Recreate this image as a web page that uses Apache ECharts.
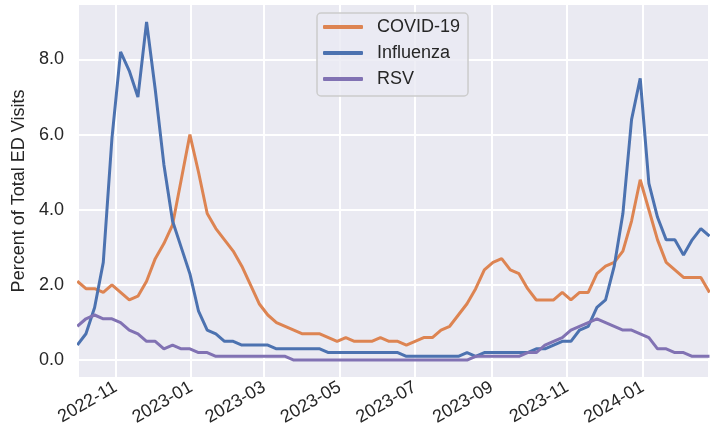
<!DOCTYPE html>
<html>
<head>
<meta charset="utf-8">
<script src="https://cdn.jsdelivr.net/npm/echarts@6/dist/echarts.min.js"></script>
<style>
  html, body { margin: 0; padding: 0; background: #ffffff; }
  #chart { width: 712px; height: 433px; }
</style>
</head>
<body>
<div id="chart"></div>
<script>
// Weekly dates (week ending Saturday)
const dates = [
  '2022-10-01','2022-10-08','2022-10-15','2022-10-22','2022-10-29','2022-11-05','2022-11-12','2022-11-19','2022-11-26',
  '2022-12-03','2022-12-10','2022-12-17','2022-12-24','2022-12-31',
  '2023-01-07','2023-01-14','2023-01-21','2023-01-28','2023-02-04','2023-02-11','2023-02-18','2023-02-25',
  '2023-03-04','2023-03-11','2023-03-18','2023-03-25','2023-04-01','2023-04-08','2023-04-15','2023-04-22','2023-04-29',
  '2023-05-06','2023-05-13','2023-05-20','2023-05-27','2023-06-03','2023-06-10','2023-06-17','2023-06-24',
  '2023-07-01','2023-07-08','2023-07-15','2023-07-22','2023-07-29','2023-08-05','2023-08-12','2023-08-19','2023-08-26',
  '2023-09-02','2023-09-09','2023-09-16','2023-09-23','2023-09-30','2023-10-07','2023-10-14','2023-10-21','2023-10-28',
  '2023-11-04','2023-11-11','2023-11-18','2023-11-25','2023-12-02','2023-12-09','2023-12-16','2023-12-23','2023-12-30',
  '2024-01-06','2024-01-13','2024-01-20','2024-01-27','2024-02-03','2024-02-10','2024-02-17','2024-02-24'
];

const covid = [
  2.1,1.9,1.9,1.8,2.0,1.8,1.6,1.7,2.1,2.7,3.1,3.6,4.8,6.0,
  5.0,3.9,3.5,3.2,2.9,2.5,2.0,1.5,1.2,1.0,0.9,0.8,0.7,0.7,0.7,0.6,0.5,
  0.6,0.5,0.5,0.5,0.6,0.5,0.5,0.4,0.5,0.6,0.6,0.8,0.9,1.2,1.5,1.9,2.4,
  2.6,2.7,2.4,2.3,1.9,1.6,1.6,1.6,1.8,1.6,1.8,1.8,2.3,2.5,2.6,2.9,3.7,4.8,
  4.0,3.2,2.6,2.4,2.2,2.2,2.2,1.8
];

const influenza = [
  0.4,0.7,1.4,2.6,5.9,8.2,7.7,7.0,9.0,7.2,5.2,3.7,3.0,2.3,
  1.3,0.8,0.7,0.5,0.5,0.4,0.4,0.4,0.4,0.3,0.3,0.3,0.3,0.3,0.3,0.2,0.2,
  0.2,0.2,0.2,0.2,0.2,0.2,0.2,0.1,0.1,0.1,0.1,0.1,0.1,0.1,0.2,0.1,0.2,
  0.2,0.2,0.2,0.2,0.2,0.3,0.3,0.4,0.5,0.5,0.8,0.9,1.4,1.6,2.5,3.9,6.4,7.5,
  4.7,3.8,3.2,3.2,2.8,3.2,3.5,3.3
];

const rsv = [
  0.9,1.1,1.2,1.1,1.1,1.0,0.8,0.7,0.5,0.5,0.3,0.4,0.3,0.3,
  0.2,0.2,0.1,0.1,0.1,0.1,0.1,0.1,0.1,0.1,0.1,0.0,0.0,0.0,0.0,0.0,0.0,
  0.0,0.0,0.0,0.0,0.0,0.0,0.0,0.0,0.0,0.0,0.0,0.0,0.0,0.0,0.0,0.1,0.1,
  0.1,0.1,0.1,0.1,0.2,0.2,0.4,0.5,0.6,0.8,0.9,1.0,1.1,1.0,0.9,0.8,0.8,0.7,
  0.6,0.3,0.3,0.2,0.2,0.1,0.1,0.1
];

const seriesNames = ['COVID-19', 'Influenza', 'RSV'];
const xTickDates = ['2022-11-01','2023-01-01','2023-03-01','2023-05-01','2023-07-01','2023-09-01','2023-11-01','2024-01-01'];
const yTicks = [0, 2, 4, 6, 8];
const xRange = ['2022-10-02T09:00:00', '2024-02-22T19:00:00'];
const yRange = [-0.45, 9.45];

function toTs(s) {
  const p = s.split(/[-T:]/).map(Number);
  return new Date(p[0], p[1] - 1, p[2], p[3] || 0, p[4] || 0, p[5] || 0).getTime();
}
function pad(n) { return n < 10 ? '0' + n : '' + n; }

const xTickVals = xTickDates.map(toTs);
const colors = ['#DD8452', '#4C72B0', '#8172B3'];
const allData = [covid, influenza, rsv];
const FONT = '"Liberation Sans", Arial, sans-serif';

const chart = echarts.init(document.getElementById('chart'), null, { renderer: 'canvas' });
chart.setOption({
  animation: false,
  backgroundColor: '#ffffff',
  grid: {
    left: 79, right: 4, top: 5, bottom: 56,
    show: true, backgroundColor: '#EAEAF2', borderWidth: 0
  },
  legend: {
    orient: 'vertical',
    left: 317, top: 13,
    data: seriesNames,
    icon: 'roundRect',
    itemWidth: 40, itemHeight: 4,
    itemGap: 8,
    padding: [5, 8, 8, 6],
    backgroundColor: 'rgba(234,234,242,0.8)',
    borderColor: '#cccccc', borderWidth: 1.5, borderRadius: 4,
    textStyle: { fontSize: 18, fontFamily: FONT, color: '#262626', padding: [0, 0, 0, 9] }
  },
  xAxis: {
    type: 'value',
    min: toTs(xRange[0]), max: toTs(xRange[1]),
    axisLine: { show: false },
    axisTick: { show: false, customValues: xTickVals },
    splitLine: { show: true, lineStyle: { color: '#ffffff', width: 2 } },
    axisLabel: {
      customValues: xTickVals,
      rotate: 30,
      margin: 9,
      fontSize: 18, fontFamily: FONT, color: '#262626',
      formatter: function (v) { const d = new Date(v); return d.getFullYear() + '-' + pad(d.getMonth() + 1); }
    }
  },
  yAxis: {
    type: 'value',
    min: yRange[0], max: yRange[1],
    name: 'Percent of Total ED Visits',
    nameLocation: 'middle',
    nameGap: 49,
    nameTextStyle: { fontSize: 18, fontFamily: FONT, color: '#262626' },
    axisLine: { show: false },
    axisTick: { show: false, customValues: yTicks },
    splitLine: { show: true, lineStyle: { color: '#ffffff', width: 2 } },
    axisLabel: {
      customValues: yTicks,
      margin: 15,
      fontSize: 18, fontFamily: FONT, color: '#262626',
      formatter: function (v) { return v.toFixed(1); }
    }
  },
  series: seriesNames.map(function (name, k) {
    return {
      name: name,
      type: 'line',
      data: dates.map(function (d, i) { return [toTs(d), allData[k][i]]; }),
      showSymbol: false,
      symbol: 'none',
      clip: true,
      color: colors[k],
      lineStyle: { width: 3, color: colors[k] },
      itemStyle: { color: colors[k] }
    };
  })
});
</script>
</body>
</html>
